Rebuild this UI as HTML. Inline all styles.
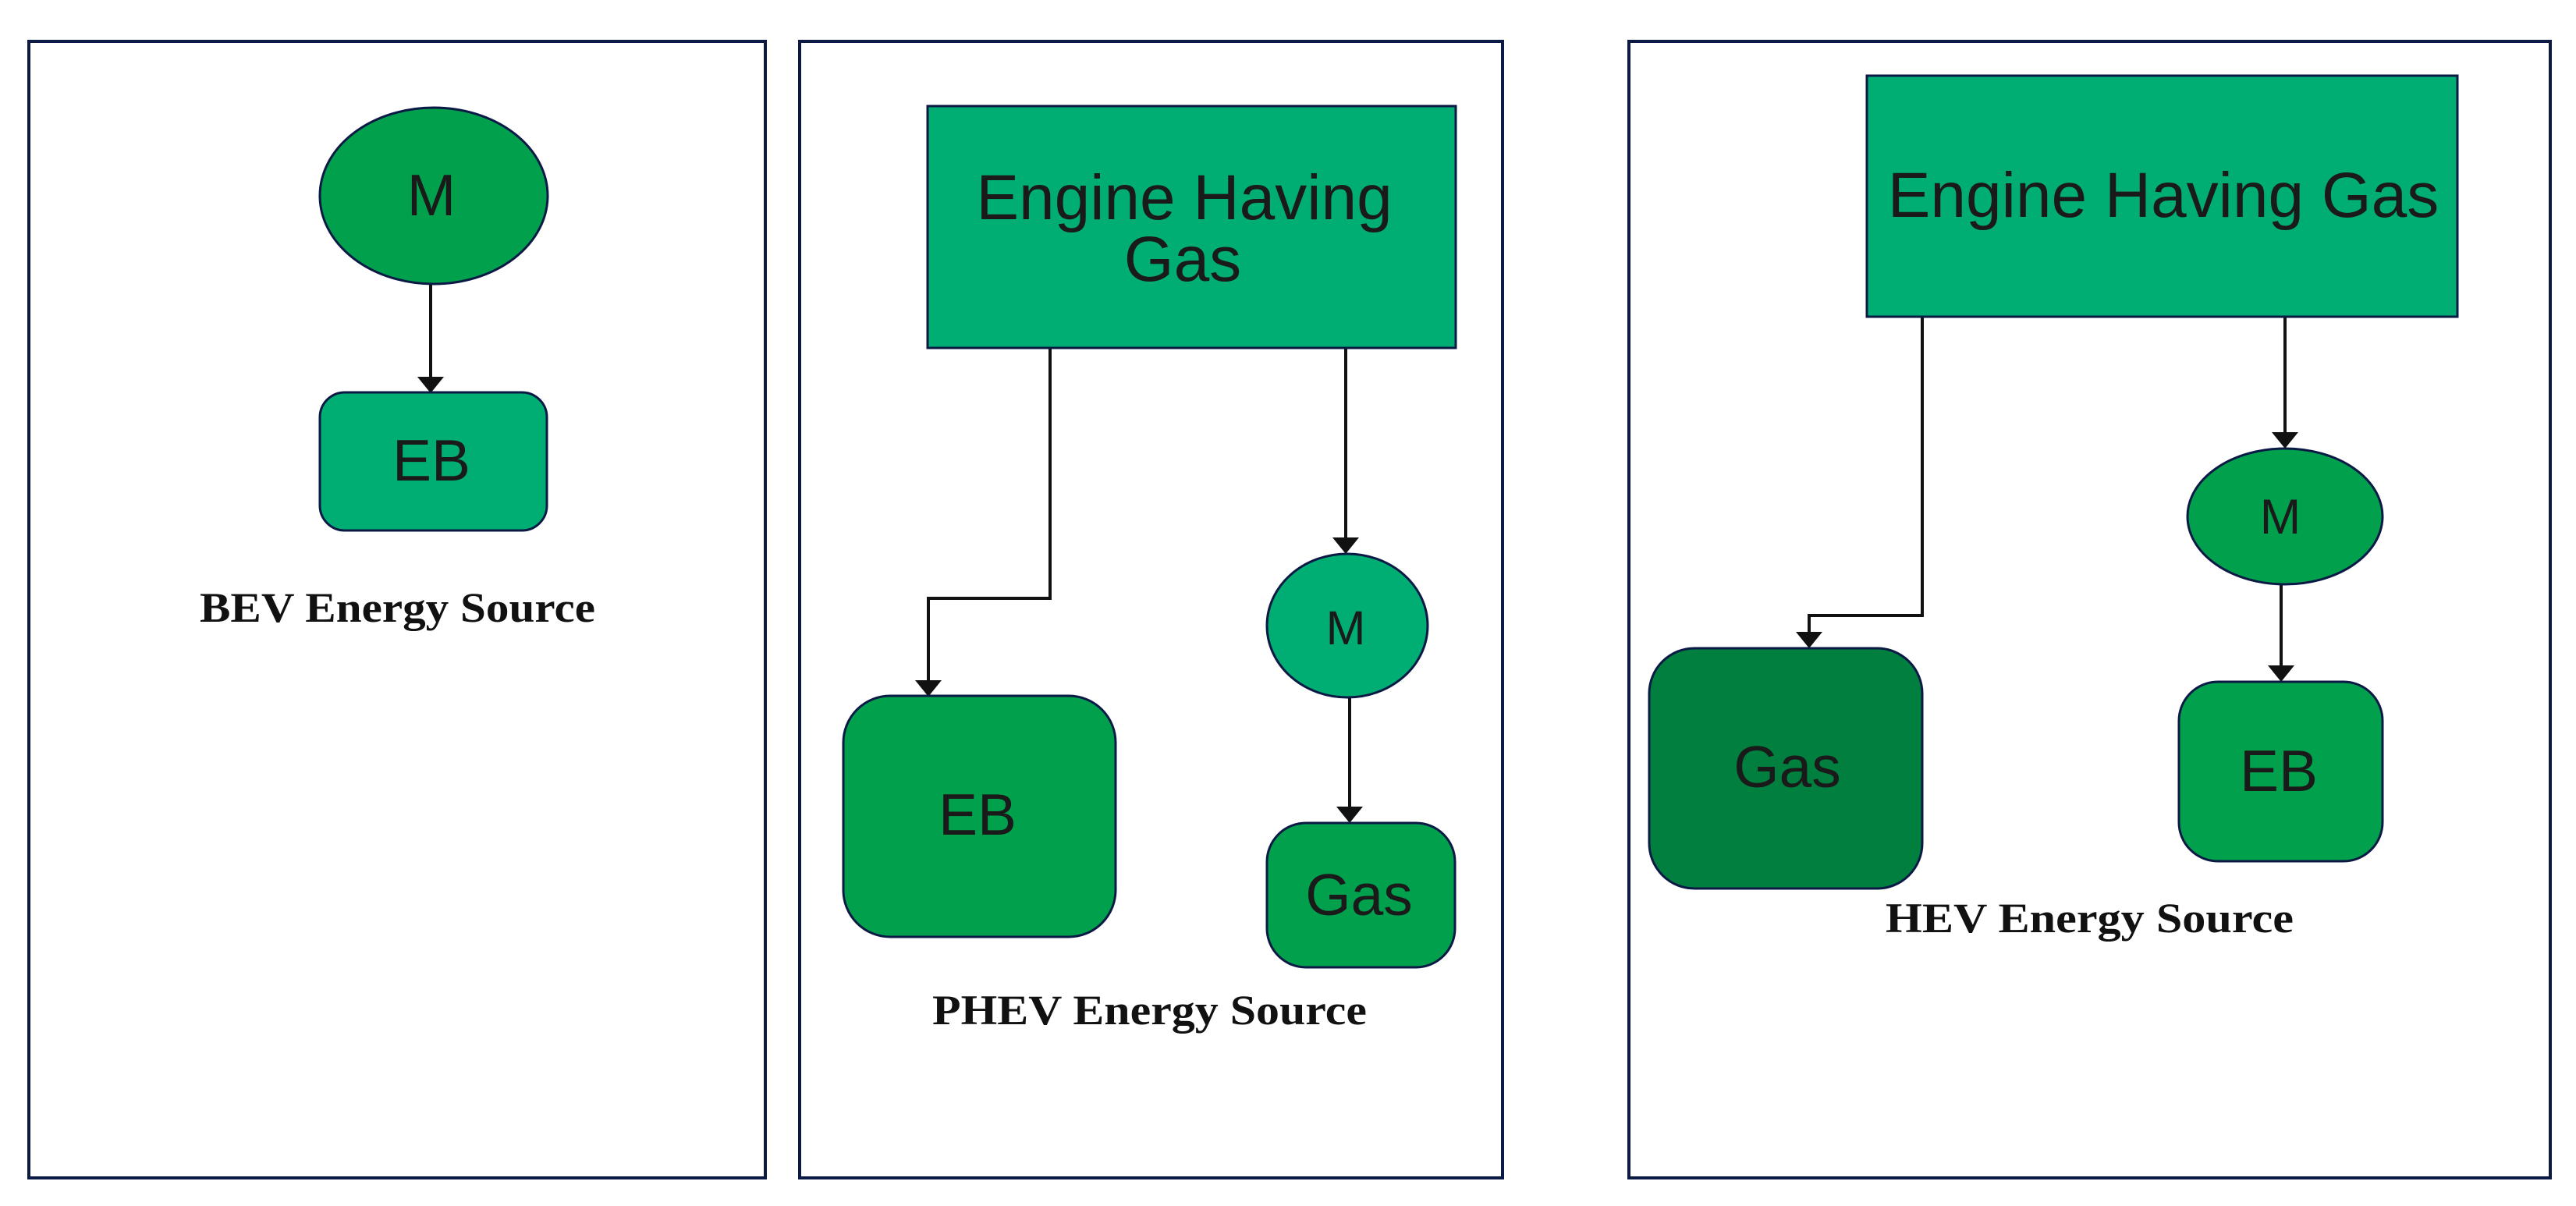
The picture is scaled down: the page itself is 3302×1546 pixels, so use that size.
<!DOCTYPE html>
<html><head><meta charset="utf-8"><style>html,body{margin:0;padding:0;background:#fff}svg{display:block}</style></head>
<body>
<svg width="3302" height="1546" viewBox="0 0 3302 1546" xmlns="http://www.w3.org/2000/svg">
<defs>
<marker id="a" markerWidth="36" markerHeight="22" refX="18" refY="20" orient="auto-start-reverse" markerUnits="userSpaceOnUse" viewBox="0 0 36 22">
</marker>
</defs>
<g fill="none" stroke="#0b1a45" stroke-width="4">
<rect x="37" y="53" width="944" height="1457"/>
<rect x="1025" y="53" width="901" height="1457"/>
<rect x="2088" y="53" width="1181" height="1457"/>
</g>
<g stroke="#111" stroke-width="4" fill="none">
<path d="M552 365 V485"/>
<path d="M1346 446 V767 H1190 V875"/>
<path d="M1725 446 V692"/>
<path d="M1730 895 V1037"/>
<path d="M2464 406 V789 H2319 V813"/>
<path d="M2929 406 V557"/>
<path d="M2924 749 V856"/>
</g>
<g fill="#111">
<path d="M535 483 H569 L552 504 Z"/>
<path d="M1173 872 H1207 L1190 893 Z"/>
<path d="M1708 689 H1742 L1725 710 Z"/>
<path d="M1713 1034 H1747 L1730 1055 Z"/>
<path d="M2302 810 H2336 L2319 831 Z"/>
<path d="M2912 554 H2946 L2929 575 Z"/>
<path d="M2907 853 H2941 L2924 874 Z"/>
</g>
<g stroke="#0b1a45" stroke-width="3">
<ellipse cx="556" cy="251" rx="146" ry="113" fill="#00a04c"/>
<rect x="410" y="503" width="291" height="177" rx="32" fill="#00ae74"/>
<rect x="1189" y="136" width="677" height="310" fill="#00ae74"/>
<rect x="1081" y="892" width="349" height="309" rx="60" fill="#00a04c"/>
<ellipse cx="1727" cy="802" rx="103" ry="92" fill="#00ae74"/>
<rect x="1624" y="1055" width="241" height="185" rx="50" fill="#00a04c"/>
<rect x="2393" y="97" width="757" height="309" fill="#00ae74"/>
<rect x="2114" y="831" width="350" height="308" rx="58" fill="#007f3f"/>
<ellipse cx="2929" cy="662" rx="125" ry="87" fill="#00a04c"/>
<rect x="2793" y="874" width="261" height="230" rx="50" fill="#00a04c"/>
</g>
<g font-family="Liberation Sans, sans-serif" fill="#1a1a1a" text-anchor="middle">
<text x="553" y="276" font-size="75">M</text>
<text x="553" y="616" font-size="75">EB</text>
<text x="1518" y="281" font-size="82">Engine Having</text>
<text x="1516" y="360" font-size="82">Gas</text>
<text x="1253" y="1070" font-size="75">EB</text>
<text x="1725" y="826" font-size="61">M</text>
<text x="1742" y="1173" font-size="75">Gas</text>
<text x="2773" y="278" font-size="82">Engine Having Gas</text>
<text x="2291" y="1009" font-size="75">Gas</text>
<text x="2923" y="684" font-size="63">M</text>
<text x="2921" y="1014" font-size="75">EB</text>
</g>
<g font-family="Liberation Serif, serif" font-weight="bold" fill="#111" font-size="54">
<text x="256" y="797" textLength="507" lengthAdjust="spacingAndGlyphs">BEV Energy Source</text>
<text x="1195" y="1313" textLength="557" lengthAdjust="spacingAndGlyphs">PHEV Energy Source</text>
<text x="2417" y="1195" textLength="523" lengthAdjust="spacingAndGlyphs">HEV Energy Source</text>
</g>
</svg>
</body></html>
